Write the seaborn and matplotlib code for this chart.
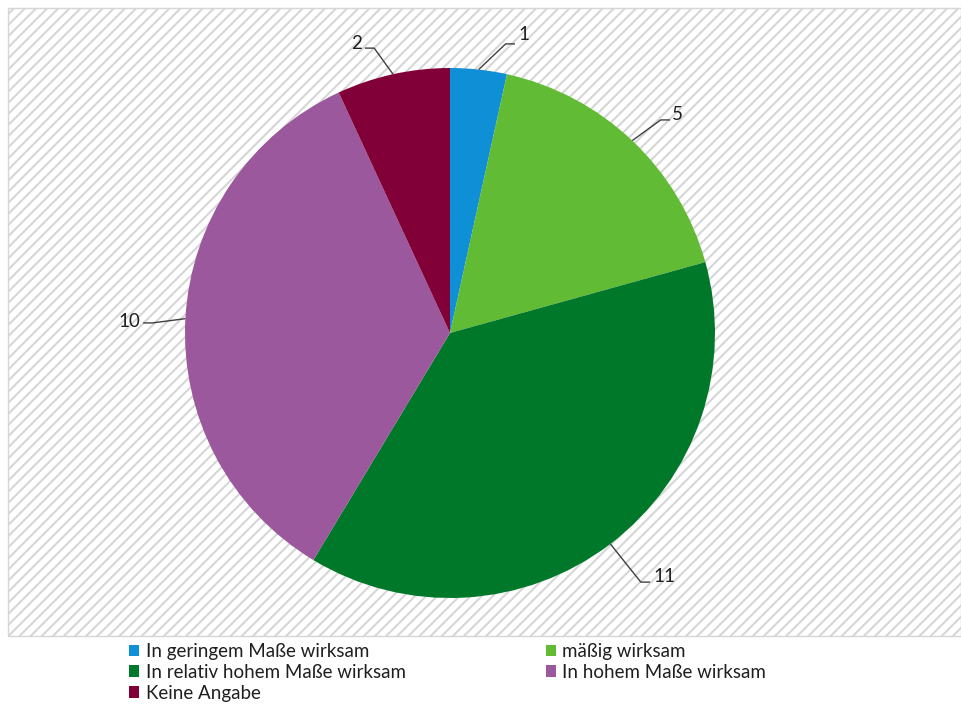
import numpy as np
import seaborn as sns
import matplotlib.pyplot as plt
from matplotlib.patches import Rectangle, Patch

categories = [
    "In geringem Maße wirksam",
    "mäßig wirksam",
    "In relativ hohem Maße wirksam",
    "In hohem Maße wirksam",
    "Keine Angabe",
]
counts = [1, 5, 11, 10, 2]
colors = ["#0f8fd5", "#62bb35", "#00782a", "#9c589c", "#820038"]

# label placement (pie units): text centre, end of leader line
label_text_pos = [(0.279, 1.128), (0.857, 0.823), (0.808, -0.917), (-1.211, 0.045), (-0.351, 1.094)]
label_line_end = [(0.245, 1.091), (0.830, 0.804), (0.755, -0.940), (-1.158, 0.038), (-0.321, 1.075)]

sns.set_theme(style="white")
plt.rcParams["font.family"] = ["Lato", "DejaVu Sans"]
plt.rcParams["hatch.linewidth"] = 1.5
plt.rcParams["hatch.color"] = "#d6d6d6"

fig = plt.figure(figsize=(9.61, 7.05), dpi=100)
fig.patch.set_facecolor("white")

# hatched chart area, drawn in a background axes
bg_ax = fig.add_axes([0, 0, 1, 1], zorder=-1)
bg_ax.set_xlim(0, 961)
bg_ax.set_ylim(705, 0)
bg_ax.axis("off")
bg_ax.add_patch(Rectangle((8, 8), 961 - 8, 636 - 8, facecolor="white",
                          edgecolor="#d6d6d6", hatch="///", linewidth=1.0))

r_px = 265
half = 1.3
size = 2 * half * r_px
ax = fig.add_axes([(450 - size / 2) / 961, (705 - 333 - size / 2) / 705, size / 961, size / 705])

wedges, _ = ax.pie(counts, colors=colors, startangle=90, counterclock=False,
                   radius=1.0, wedgeprops=dict(linewidth=0))
ax.set_xlim(-half, half)
ax.set_ylim(-half, half)
ax.set_aspect("equal")
ax.axis("off")
ax.patch.set_alpha(0)

total = sum(counts)
cum = np.cumsum([0] + counts)
for i, val in enumerate(counts):
    mid = 90 - (cum[i] + val / 2) / total * 360
    ex, ey = np.cos(np.radians(mid)), np.sin(np.radians(mid))
    lx, ly = label_line_end[i]
    step = 0.035 if lx > 0 else -0.035
    ax.plot([ex, lx - step, lx], [ey, ly, ly], color="#404040", lw=1.0, solid_capstyle="butt")
    tx, ty = label_text_pos[i]
    ax.text(tx, ty, str(val), ha="center", va="center", fontsize=13.5, color="#1f1f1f")

handles = [Patch(facecolor=c, edgecolor="none") for c in colors]
order = [0, 2, 4, 1, 3]
fig.legend([handles[i] for i in order], [categories[i] for i in order],
           ncol=2, loc="upper left", bbox_to_anchor=(129 / 961, 1 - 643 / 705),
           frameon=False, fontsize=13.5, handlelength=0.55, handleheight=0.55,
           handletextpad=0.35, columnspacing=7.45, labelspacing=0.2,
           borderaxespad=0, borderpad=0, labelcolor="#1f1f1f")

fig.savefig("out.png", dpi=100, facecolor="white")
